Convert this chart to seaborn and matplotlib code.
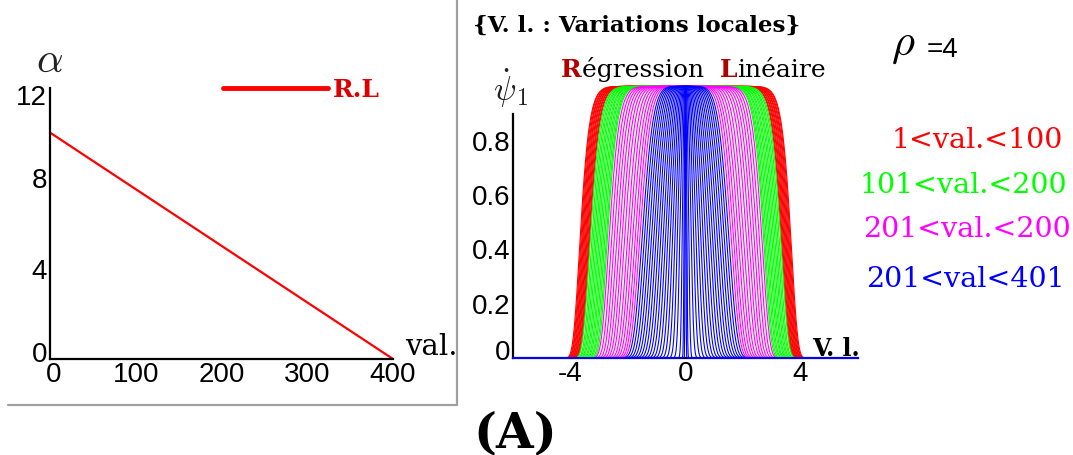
import numpy as np
import pandas as pd
import matplotlib
matplotlib.use("Agg")
import matplotlib.pyplot as plt
from matplotlib.lines import Line2D
from matplotlib.ticker import MultipleLocator
from matplotlib.transforms import ScaledTranslation
import seaborn as sns

# ---------------------------------------------------------------------------
# Data
# ---------------------------------------------------------------------------
# left panel : linear regression of alpha against val.
reg_val = [1, 400]
reg_alpha = [10.0, 0.0]

# right panel : one flat-topped profile per curve, described by its half
# width (value of V.l. where the curve crosses 0.5) and its steepness
red_width = [3.63, 3.60, 3.57, 3.54, 3.51, 3.48, 3.45, 3.42, 3.39, 3.36, 3.33, 3.30]
red_power = [18, 18, 17.5, 17.5, 17, 17, 16.5, 16.5, 16, 16, 15.5, 15.5]
green_width = [3.27, 3.22, 3.17, 3.12, 3.07, 3.02, 2.97, 2.92, 2.87, 2.82, 2.77, 2.72, 2.68]
green_power = [15, 15, 14.5, 14.5, 14, 14, 13.5, 13.5, 13, 13, 12.5, 12.5, 12.5]
magenta_width = [2.62, 2.53, 2.44, 2.35, 2.26, 2.17, 2.08, 1.98, 1.89, 1.80, 1.71, 1.63, 1.55]
magenta_power = [12, 11.6, 11.2, 10.8, 10.3, 9.8, 9.3, 8.8, 8.3, 7.8, 7.4, 7.0, 6.6]
blue_width = [1.47, 1.39, 1.31, 1.23, 1.15, 1.07, 0.99, 0.91, 0.83, 0.75,
              0.67, 0.59, 0.51, 0.43, 0.35, 0.27, 0.19, 0.11, 0.05, 0.02]
blue_power = [6.2, 6.0, 5.8, 5.6, 5.4, 5.2, 5.0, 4.8, 4.6, 4.4,
              4.2, 4.0, 3.8, 3.6, 3.4, 3.2, 3.0, 3.0, 3.0, 3.0]

group_names = ["1<val.<100", "101<val.<200", "201<val.<200", "201<val<401"]
group_colors = ["#FF0000", "#00FF00", "#FF00FF", "#0000FF"]

W, H = 1073, 455


def fx(x):
    return x / W


def fy(y):
    return 1 - y / H


###########################################################################
# Build the long table of curves (widest first, so blue ends on top)
###########################################################################
vl = np.linspace(-6, 6, 1201)
rows = []
uid = 0
groups = [(red_width, red_power), (green_width, green_power),
          (magenta_width, magenta_power), (blue_width, blue_power)]
for name, (widths, powers) in zip(group_names, groups):
    for w, p in zip(widths, powers):
        psi = np.exp(-np.log(2) * np.abs(vl / w) ** p)
        rows.append(pd.DataFrame({"vl": vl, "psi": psi, "group": name, "curve": uid}))
        uid += 1
curves = pd.concat(rows, ignore_index=True)
reg = pd.DataFrame({"val": reg_val, "alpha": reg_alpha})

###########################################################################
# Figure
###########################################################################
sns.set_style("white")
plt.rcParams["font.family"] = ["Liberation Sans", "DejaVu Sans"]
plt.rcParams["mathtext.fontset"] = "cm"
plt.rcParams["text.color"] = "black"

fig = plt.figure(figsize=(W / 100, H / 100), dpi=100)

# left panel -------------------------------------------------------------
ax1 = fig.add_axes([fx(50), fy(359), fx(343), 271 / H])
sns.lineplot(data=reg, x="val", y="alpha", ax=ax1, color="#FF0000",
             linewidth=1.6, label="R.L")
ax1.set_xlim(0, 400)
ax1.set_ylim(0, 12)
ax1.set_xticks([0, 100, 200, 300, 400], labels=["0", "100", "200", "300", "400"])
ax1.set_yticks([0, 4, 8, 12], labels=["0", "4", "8", "12"])
ax1.xaxis.set_minor_locator(MultipleLocator(50))
ax1.yaxis.set_minor_locator(MultipleLocator(2))
ax1.set_xlabel("")
ax1.set_ylabel("")

leg = ax1.legend(loc="center left", bbox_to_anchor=((200 - 50) / 343, (359 - 90) / 271),
                 frameon=False, handlelength=4.2, handletextpad=0.2,
                 prop={"family": "DejaVu Serif", "weight": "bold", "size": 18})
for t in leg.get_texts():
    t.set_color("#DD0000")
for h in leg.get_lines():
    h.set_linewidth(3.5)

# right panel ------------------------------------------------------------
ax2 = fig.add_axes([fx(513), fy(358), fx(345), 271.6 * 1.0 / H])
sns.lineplot(data=curves, x="vl", y="psi", hue="group", units="curve",
             estimator=None, sort=False, hue_order=group_names,
             palette=group_colors, linewidth=0.8, legend=False, ax=ax2)
for ln in ax2.lines:
    ln.set_clip_on(False)
    ln.set_zorder(3)
ax2.set_xlim(-6, 6)
ax2.set_ylim(0, 1.0)
ax2.set_xticks([-4, 0, 4], labels=["-4", "0", "4"])
ax2.set_yticks([0, 0.2, 0.4, 0.6, 0.8], labels=["0", "0.2", "0.4", "0.6", "0.8"])
ax2.yaxis.set_minor_locator(MultipleLocator(0.1))
ax2.set_xlabel("")
ax2.set_ylabel("")

for ax in (ax1, ax2):
    ax.set_facecolor("none")
    for s in ("top", "right"):
        ax.spines[s].set_visible(False)
    for s in ("left", "bottom"):
        ax.spines[s].set_color("black")
        ax.spines[s].set_linewidth(1.6)
    ax.tick_params(which="both", direction="in", colors="black", width=1.2,
                   labelsize=20, pad=2)
    ax.tick_params(which="major", length=5)
    ax.tick_params(which="minor", length=3)
ax1.spines["left"].set_bounds(0, 12)
ax2.spines["left"].set_bounds(0, 0.9)
ax2.tick_params(axis="x", length=0)


# end labels nudged inwards, as in the reference
def nudge(lab, dx_px, dy_px):
    lab.set_transform(lab.get_transform() +
                      ScaledTranslation(dx_px / 100, dy_px / 100, fig.dpi_scale_trans))


for lab in ax1.get_yticklabels():
    if lab.get_text() == "12":
        nudge(lab, 0, -7)
    elif lab.get_text() == "0":
        nudge(lab, 0, 7)
for lab in ax1.get_xticklabels():
    if lab.get_text() == "0":
        nudge(lab, 4, 0)
for lab in ax2.get_yticklabels():
    if lab.get_text() == "0":
        nudge(lab, 0, 8)

# grey frame round the left panel
fig.add_artist(Line2D([fx(8), fx(457)], [fy(405), fy(405)], color="#A0A0A0", lw=1.6))
fig.add_artist(Line2D([fx(457), fx(457)], [fy(0), fy(405)], color="#A0A0A0", lw=1.6))

# ---------------------------------------------------------------------------
# texts
# ---------------------------------------------------------------------------
fig.text(fx(36), fy(72), r"$\alpha$", fontsize=30, color="#222222", va="baseline")
fig.text(fx(405), fy(355), "val.", family="DejaVu Serif", fontsize=21, va="baseline")

fig.text(fx(473), fy(32), "{V. l. : Variations locales}", family="DejaVu Serif",
         fontweight="bold", fontsize=16.5, va="baseline")
fig.text(fx(493), fy(101), r"$\dot{\psi}_1$", fontsize=24, color="#222222", va="baseline")
fig.text(fx(812), fy(356), "V. l.", family="DejaVu Serif", fontweight="bold",
         fontsize=17, va="baseline")
fig.text(fx(473), fy(447), "(A)", family="DejaVu Serif", fontweight="bold",
         fontsize=35, va="baseline")

# "Régression  Linéaire" with bold dark-red initials
renderer = fig.canvas.get_renderer()
xpos = 561
for piece, col, wt in [("R", "#B00000", "bold"), ("égression  ", "black", "normal"),
                       ("L", "#B00000", "bold"), ("inéaire", "black", "normal")]:
    t = fig.text(fx(xpos), fy(77), piece, family="DejaVu Serif", fontsize=18,
                 color=col, fontweight=wt, va="baseline")
    xpos += t.get_window_extent(renderer).width

fig.text(fx(891), fy(55), r"$\rho$", fontsize=32, va="baseline")
fig.text(fx(927), fy(57), "=4", fontsize=20, va="baseline")

legend_left = [892, 860, 863, 866]
legend_base = [148, 193, 237, 287]
for name, col, lx, by in zip(group_names, group_colors, legend_left, legend_base):
    fig.text(fx(lx), fy(by), name, family="DejaVu Serif", fontsize=20.5,
             color=col, va="baseline")

fig.savefig("out.png", dpi=100)
